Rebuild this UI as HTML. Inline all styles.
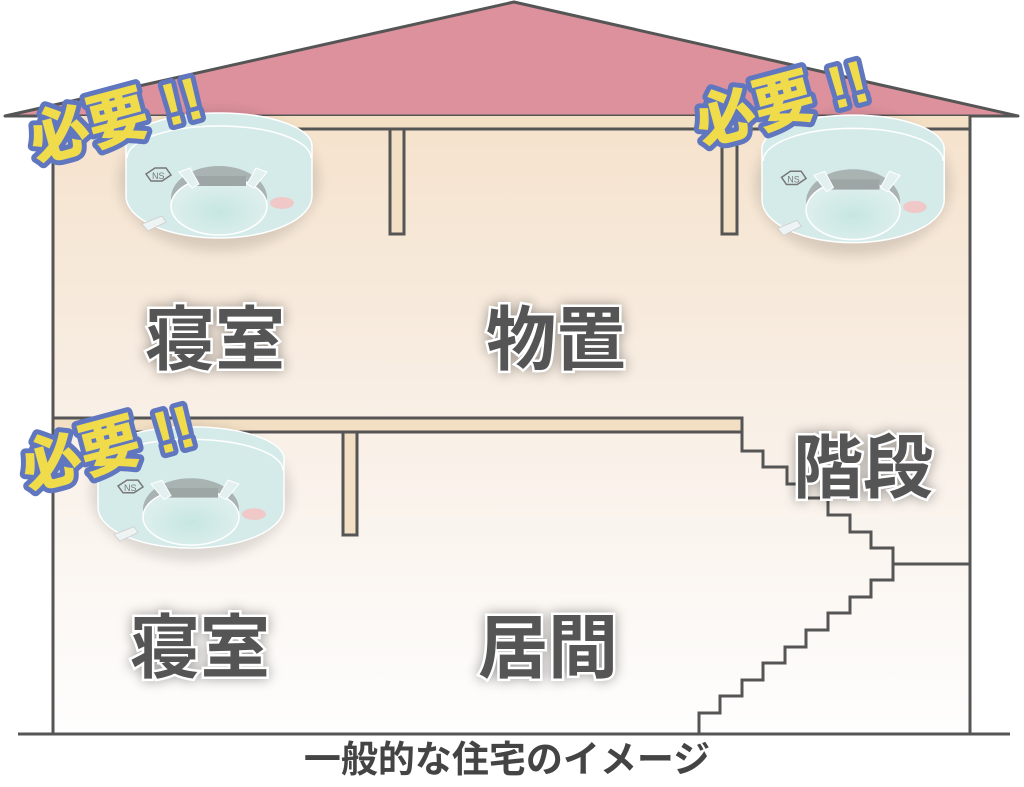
<!DOCTYPE html>
<html><head><meta charset="utf-8"><style>
html,body{margin:0;padding:0;background:#fff;}
svg{display:block;}
.lbl{font-family:"Liberation Sans","Noto Sans CJK JP",sans-serif;font-weight:bold;font-size:70px;fill:#555;stroke:#fff;stroke-width:5px;paint-order:stroke;}
.need{font-family:"Liberation Sans","Noto Sans CJK JP",sans-serif;font-weight:900;font-size:60px;fill:#f0dc4a;stroke:#6077c0;stroke-width:10px;paint-order:stroke;stroke-linejoin:round;}
</style></head><body>
<svg width="1024" height="787" viewBox="0 0 1024 787" xmlns="http://www.w3.org/2000/svg">
<defs>
<linearGradient id="wall" x1="0" y1="0" x2="0" y2="1">
<stop offset="0" stop-color="#f5e2cc"/><stop offset="0.45" stop-color="#f8eee4"/><stop offset="1" stop-color="#fefefe"/>
</linearGradient>
<filter id="sh" x="-30%" y="-30%" width="160%" height="160%"><feGaussianBlur stdDeviation="6"/></filter>
<radialGradient id="face" cx="0.5" cy="0.6" r="0.5"><stop offset="0" stop-color="#c6e6e2"/><stop offset="1" stop-color="#ddefed"/></radialGradient>
<g id="det">
<ellipse cx="95" cy="75" rx="100" ry="70" fill="#000" opacity="0.12" filter="url(#sh)"/>
<path d="M2,40 A93,33 0 0 1 188,40 L188,90 A93,42 0 0 1 2,90 Z" fill="#d5ebea" stroke="#fff" stroke-width="1.5"/>
<path d="M3,52 A92,32 0 0 1 187,52" fill="none" stroke="#fff" stroke-width="1.5"/>
<ellipse cx="95" cy="92" rx="48" ry="32" fill="#a9b3b2"/>
<ellipse cx="95" cy="100" rx="48" ry="29" fill="url(#face)" stroke="#fff" stroke-width="1.5"/>
<rect x="70" y="70" width="52" height="10" fill="#9ea6a5"/>
<path d="M55,66 L66,62 L75,78 L68,82 Z M123,78 L132,62 L143,66 L130,82 Z" fill="#e2f1f0" stroke="#fff"/>
<ellipse cx="158" cy="97" rx="12" ry="6" fill="#f0c8c8"/>
<path d="M22,68 l9,-6 l11,0 l5,7 l-9,6 l-11,0 Z" fill="none" stroke="#777" stroke-width="1.5"/>
<text x="28" y="73" font-size="9" fill="#777" font-family="Liberation Sans">NS</text>
<path d="M18,118 l20,-8 l4,6 l-18,9 Z" fill="#eef4f3" stroke="#ccc" stroke-width="0.8"/>
</g>
</defs>
<rect width="1024" height="787" fill="#fff"/>
<rect x="53" y="116" width="917" height="618" fill="url(#wall)"/>
<path d="M5,116 L514,2 L1018,116 Z" fill="#dc919c" stroke="#555" stroke-width="3" stroke-linejoin="round"/>
<rect x="53" y="116" width="917" height="13" fill="#f2dfc4"/>
<line x1="53" y1="129" x2="970" y2="129" stroke="#555" stroke-width="3"/>
<rect x="390" y="129" width="14" height="105" fill="#f2dfc4" stroke="#555" stroke-width="3"/>
<rect x="722" y="129" width="15" height="105" fill="#f2dfc4" stroke="#555" stroke-width="3"/>
<path d="M53,418 L742,418 L742,432 L53,432" fill="#f2dfc4" stroke="#555" stroke-width="3"/>
<rect x="343" y="432" width="14" height="103" fill="#f2dfc4" stroke="#555" stroke-width="3"/>
<line x1="53" y1="116" x2="53" y2="734" stroke="#555" stroke-width="3"/>
<line x1="970" y1="116" x2="970" y2="734" stroke="#555" stroke-width="3"/>
<path d="M742,432 L742,451 L763,451 L763,467 L787,467 L787,484 L806,484 L806,498 L828,498 L828,515 L850,515 L850,532 L871,532 L871,548 L893,548 L893,580 L871,580 L871,597 L850,597 L850,613 L828,613 L828,630 L806,630 L806,647 L785,647 L785,663 L763,663 L763,680 L742,680 L742,696 L720,696 L720,713 L699,713 L699,734" fill="none" stroke="#555" stroke-width="3"/>
<line x1="893" y1="564" x2="970" y2="564" stroke="#555" stroke-width="3"/>
<line x1="18" y1="734" x2="1010" y2="734" stroke="#555" stroke-width="3"/>
<g style="filter:drop-shadow(0 0 6px rgba(0,0,0,0.35))">
<text class="lbl" x="145" y="364">寝室</text>
<text class="lbl" x="486" y="364">物置</text>
<text class="lbl" x="793" y="492">階段</text>
<text class="lbl" x="130" y="672">寝室</text>
<text class="lbl" x="478" y="672">居間</text>
</g>
<text x="507" y="772" text-anchor="middle" font-family="Liberation Sans,'Noto Sans CJK JP',sans-serif" font-weight="bold" font-size="37" fill="#444">一般的な住宅のイメージ</text>
<use href="#det" transform="translate(124,106)"/>
<use href="#det" transform="translate(760,108) scale(0.98,1.02)"/>
<use href="#det" transform="translate(96,420) scale(1,0.97)"/>
<text class="need" transform="translate(36,162) rotate(-15)">必要 !!</text>
<text class="need" transform="translate(702,145) rotate(-15)">必要 !!</text>
<text class="need" transform="translate(28,490) rotate(-15)">必要 !!</text>
</svg>
</body></html>
